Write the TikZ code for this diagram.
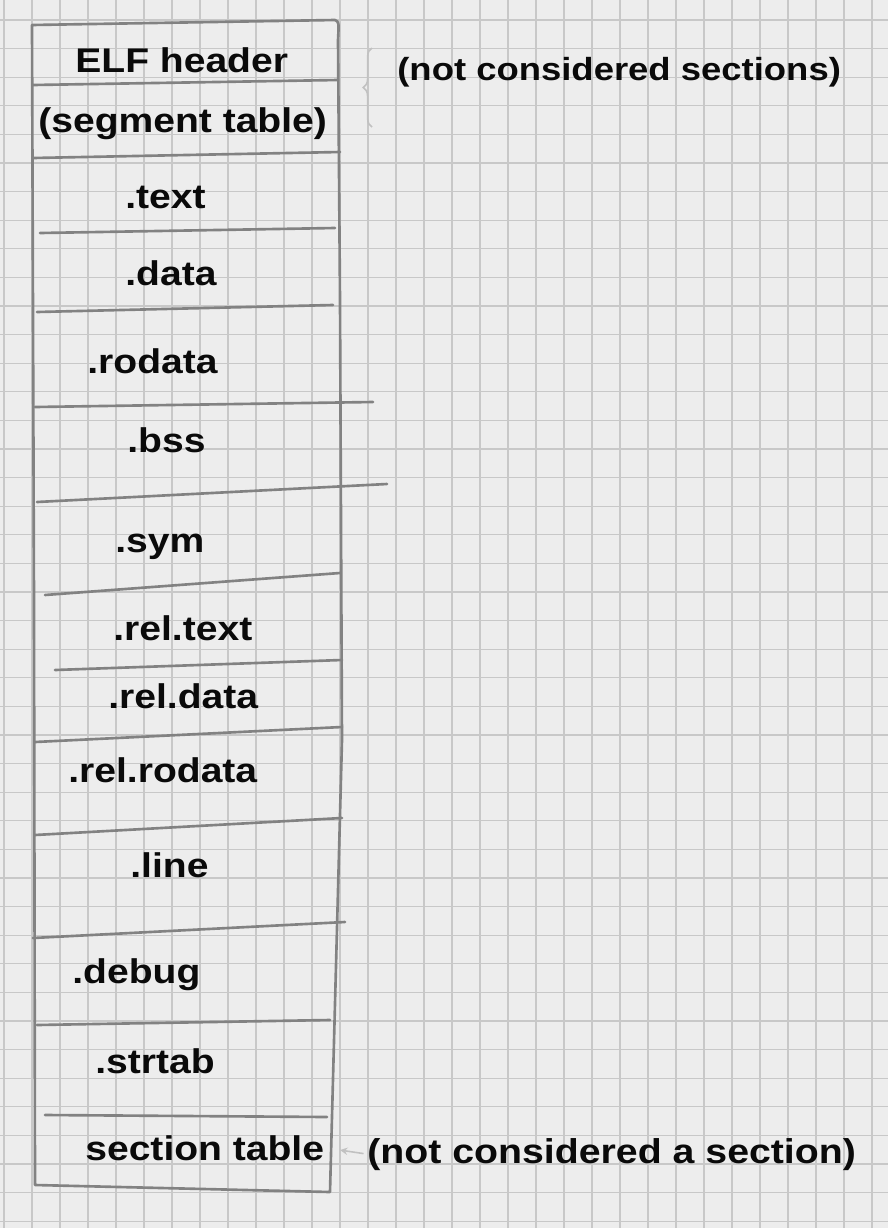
\documentclass[tikz,border=0pt]{standalone}
\usepackage{fontspec}
\setmainfont{Liberation Sans}[FakeStretch=1.14]
\usetikzlibrary{decorations.pathreplacing}
\definecolor{paper}{HTML}{EDEDED}
\definecolor{gridc}{HTML}{C8C8C8}
\definecolor{pencil}{HTML}{828282}
\definecolor{ink}{HTML}{0A0A0A}

\begin{document}
\begin{tikzpicture}[
  x=0.02cm, y=-0.02cm, >=stealth,
  gridline/.style={gridc,line width=0.6pt},
  pencilline/.style={pencil,line width=1.5pt,line cap=round,line join=round},
  faintmark/.style={pencil!50,line width=0.9pt},
  sec/.style={anchor=base west,inner sep=0pt,text=ink,font=\fontsize{19.5}{23}\selectfont\bfseries},
  note/.style={sec,font=\fontsize{18.2}{22}\selectfont\bfseries}
]

\useasboundingbox (0,0) rectangle (888,1228);
\fill[paper] (0,0) rectangle (888,1228);
\foreach \gx in {4,32,...,888} \draw[gridline] (\gx,0) -- (\gx,1228);
\foreach \gy in {20,48.6,...,1228} \draw[gridline] (0,\gy) -- (888,\gy);

\draw[pencilline] (32,25) -- (335,20) .. controls (339,22) .. (338,40) -- (340,300)
  -- (342,740) -- (330,1192) -- (35,1185) -- (34,600) -- cycle;
\foreach \xa/\ya/\xb/\yb in {33/85/338/80, 33/158/340/152, 40/233/335/228, 37/312/333/305,
  35/407/373/402, 37/502/387/484, 45/595/340/573, 55/670/342/660, 35/742/342/727,
  35/835/342/818, 33/938/345/922, 37/1025/330/1020, 45/1115/327/1117}
  \draw[pencilline] (\xa,\ya) -- (\xb,\yb);

\node[sec] (elfhdr) at (75,72) {ELF header};
\node[sec] (segtab) at (38,132) {(segment table)};
\node[sec] (text) at (125,208) {.text};
\node[sec] (data) at (125,285) {.data};
\node[sec] (rodata) at (87,373) {.rodata};
\node[sec] (bss) at (127,452) {.bss};
\node[sec] (sym) at (115,552) {.sym};
\node[sec] (reltext) at (113,640) {.rel.text};
\node[sec] (reldata) at (108,708) {.rel.data};
\node[sec] (relrodata) at (68,782) {.rel.rodata};
\node[sec] (lines) at (130,877) {.line};
\node[sec] (debug) at (72,983) {.debug};
\node[sec] (strtab) at (95,1073) {.strtab};
\node[sec] (sectab) at (85,1160) {section table};

\node[note] (notesecs) at (397,80) {(not considered sections)};
\node[note,font=\fontsize{19.6}{23}\selectfont\bfseries] (notesec) at (367,1163) {(not considered a section)};

\draw[faintmark,decorate,decoration={brace,amplitude=5pt}] (372,127) -- (372,48);
\draw[faintmark,->,shorten <=2pt,shorten >=9pt] (notesec.west) -- (sectab.east);

\end{tikzpicture}
\end{document}
